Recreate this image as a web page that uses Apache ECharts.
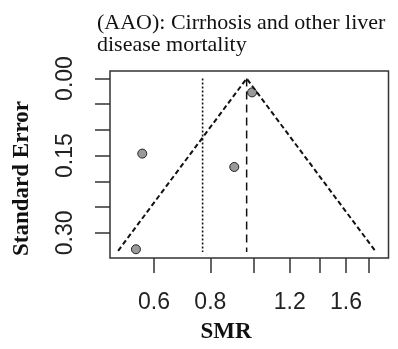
<!DOCTYPE html>
<html>
<head>
<meta charset="utf-8">
<script src="https://cdn.jsdelivr.net/npm/echarts@6/dist/echarts.min.js"></script>
<style>
  html, body { margin: 0; padding: 0; background: #fff; }
  #chart { width: 398px; height: 349px; }
</style>
</head>
<body>
<div id="chart"></div>
<script>
// Study-level estimates: SMR and its standard error
const studySMR = [0.99, 0.904, 0.565, 0.547];
const studySE = [0.027, 0.172, 0.146, 0.332];

// Pooled estimate (funnel centre) and reference estimate
const pooledSMR = 0.963;
const referenceSMR = 0.769;
const funnelSEMax = 0.335;
const verticalSEMax = 0.3375;
const zCrit = 1.96;

// Axis ticks and labels
const xTickValues = [0.6, 0.8, 1.0, 1.2, 1.4, 1.6, 1.8];
const xLabelValues = [0.6, 0.8, 1.2, 1.6];
const yTickValues = [0, 0.05, 0.10, 0.15, 0.20, 0.25, 0.30];
const yLabelValues = [0, 0.15, 0.30];

const ln = Math.log;
const centre = ln(pooledSMR);

const pointData = studySMR.map((v, i) => [ln(v), studySE[i]]);
const funnelData = [
  [centre - zCrit * funnelSEMax, funnelSEMax],
  [centre, 0],
  [centre + zCrit * funnelSEMax, funnelSEMax]
];
const pooledLine = [[centre, 0], [centre, verticalSEMax]];
const referenceLine = [[ln(referenceSMR), 0], [ln(referenceSMR), verticalSEMax]];

const ink = '#222';
const tickFont = { fontFamily: 'Liberation Sans', fontSize: 23, color: ink };

const chart = echarts.init(document.getElementById('chart'), null, { renderer: 'canvas' });
chart.setOption({
  animation: false,
  backgroundColor: '#fff',
  title: {
    text: '(AAO): Cirrhosis and other liver\ndisease mortality',
    left: 97,
    top: 12.5,
    padding: 0,
    textStyle: { fontFamily: 'Liberation Serif', fontSize: 22, fontWeight: 'normal', color: '#111', lineHeight: 22 }
  },
  grid: {
    left: 110, right: 9.5, top: 71, bottom: 91,
    show: true, borderColor: '#333', borderWidth: 1.5, backgroundColor: 'transparent'
  },
  xAxis: {
    type: 'value',
    min: -0.7358, max: 0.687,
    axisLine: { show: false, onZero: false },
    splitLine: { show: false },
    axisTick: { show: true, inside: false, length: 15, lineStyle: { color: '#333', width: 1.5 }, customValues: xTickValues.map(ln) },
    axisLabel: Object.assign({ margin: 33, customValues: xLabelValues.map(ln), formatter: v => Math.exp(v).toFixed(1) }, tickFont)
  },
  yAxis: {
    type: 'value',
    inverse: true,
    min: -0.0146, max: 0.349,
    axisLine: { show: false, onZero: false },
    splitLine: { show: false },
    axisTick: { show: true, inside: false, length: 15, lineStyle: { color: '#333', width: 1.5 }, customValues: yTickValues },
    axisLabel: Object.assign({ margin: 33, rotate: 90, customValues: yLabelValues, formatter: v => v.toFixed(2) }, tickFont)
  },
  graphic: [
    {
      type: 'text', x: 22, y: 178.5, rotation: Math.PI / 2,
      style: { text: 'Standard Error', fontFamily: 'Liberation Serif', fontWeight: 'bold', fontSize: 23, fill: '#111', align: 'center', verticalAlign: 'middle' }
    },
    {
      type: 'text', x: 226, y: 332,
      style: { text: 'SMR', fontFamily: 'Liberation Serif', fontWeight: 'bold', fontSize: 23, fill: '#111', align: 'center', verticalAlign: 'middle' }
    }
  ],
  series: [
    {
      type: 'line', data: funnelData, symbol: 'none', silent: true,
      lineStyle: { color: '#111', width: 2, type: [5, 3] }
    },
    {
      type: 'line', data: pooledLine, symbol: 'none', silent: true,
      lineStyle: { color: '#111', width: 1.5, type: [8, 5] }
    },
    {
      type: 'line', data: referenceLine, symbol: 'none', silent: true,
      lineStyle: { color: '#111', width: 1.6, type: [2, 2] }
    },
    {
      type: 'scatter', data: pointData, symbol: 'circle', symbolSize: 9, silent: true,
      itemStyle: { color: '#9a9a9a', borderColor: '#222', borderWidth: 1, opacity: 1 }
    }
  ]
});
</script>
</body>
</html>
